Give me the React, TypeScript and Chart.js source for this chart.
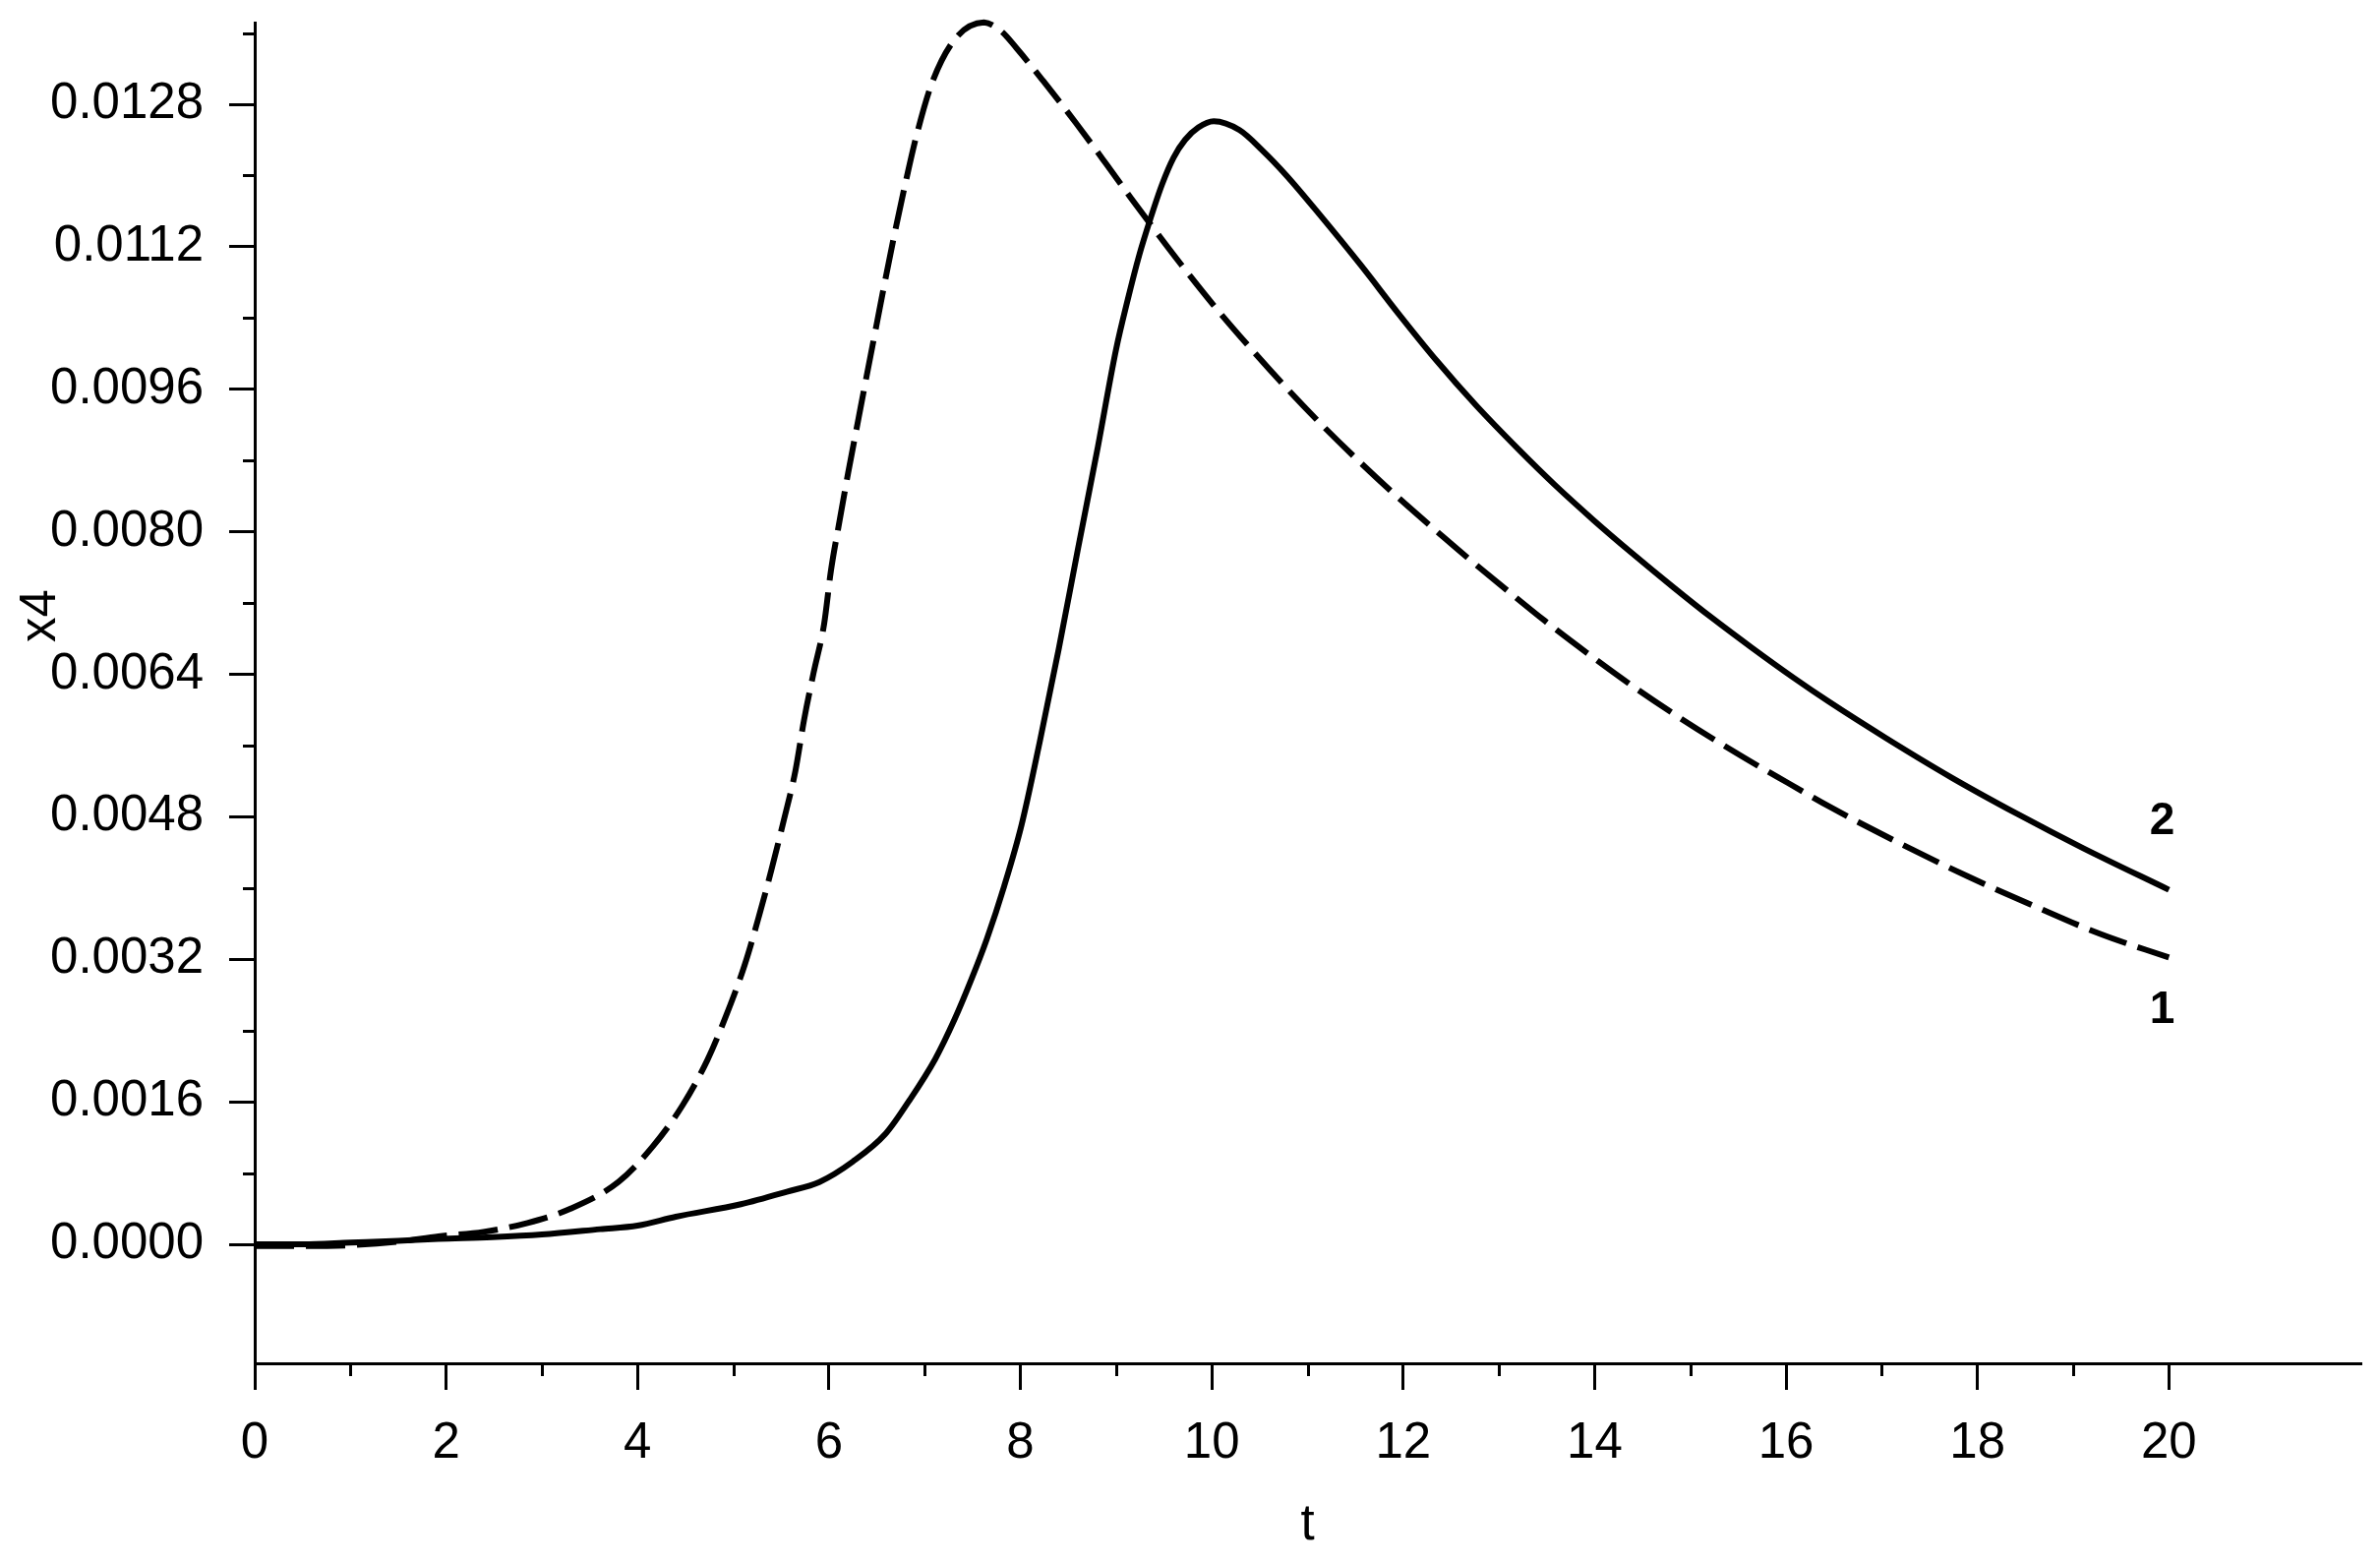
import React, { useEffect, useRef } from 'react';
import { Chart, registerables } from 'chart.js';

Chart.register(...registerables);

// ---- data ----
// curve 1 (dashed)
const tCurve1 = [0, 0.5, 1.0, 1.5, 1.92, 2.39, 2.85, 3.30, 3.80, 4.16, 4.47, 4.73, 4.93, 5.12, 5.27, 5.40, 5.53, 5.65, 5.74, 5.84, 5.95, 6.02, 6.11, 6.20, 6.31, 6.39, 6.50, 6.57, 6.68, 6.80, 6.91, 7.08, 7.33, 7.62, 7.80, 7.96, 8.24, 8.58, 8.89, 9.16, 9.34, 9.68, 10.06, 10.43, 10.81, 11.15, 11.53, 11.91, 12.42, 12.66, 13.10, 13.48, 13.92, 14.38, 14.82, 15.26, 15.71, 16.02, 16.46, 17.21, 17.90, 18.59, 19.27, 20.0];
const x4Curve1 = [-0.00002, -0.00002, -0.00001, 0.00003, 0.00009, 0.00014, 0.00024, 0.00040, 0.00070, 0.00110, 0.00156, 0.00207, 0.00258, 0.00314, 0.00369, 0.00421, 0.00477, 0.00532, 0.00589, 0.00642, 0.00697, 0.00756, 0.00812, 0.00866, 0.00928, 0.00973, 0.01034, 0.01073, 0.01132, 0.01192, 0.01243, 0.01305, 0.01355, 0.01372, 0.01362, 0.01343, 0.01306, 0.01259, 0.01214, 0.01174, 0.01148, 0.01100, 0.01049, 0.01003, 0.00958, 0.00920, 0.00880, 0.00842, 0.00794, 0.00772, 0.00733, 0.00700, 0.00664, 0.00628, 0.00596, 0.00566, 0.00537, 0.00518, 0.00491, 0.00449, 0.00413, 0.00380, 0.00349, 0.00322];

// curve 2 (solid)
const tCurve2 = [0, 0.5, 1.0, 1.5, 1.92, 2.48, 3.0, 3.61, 4.0, 4.40, 5.08, 5.56, 5.90, 6.25, 6.59, 6.83, 7.11, 7.31, 7.49, 7.65, 7.83, 8.01, 8.20, 8.40, 8.60, 8.80, 9.00, 9.12, 9.24, 9.36, 9.48, 9.60, 9.72, 9.86, 10.02, 10.29, 10.53, 10.78, 11.12, 11.56, 11.95, 12.35, 12.76, 13.20, 13.58, 13.99, 14.38, 14.82, 15.23, 15.64, 16.08, 16.45, 17.05, 17.73, 18.42, 19.10, 20.0];
const x4Curve2 = [0, 0, 0.00002, 0.00004, 0.00006, 0.00008, 0.00011, 0.00017, 0.00021, 0.00031, 0.00045, 0.00059, 0.00070, 0.00093, 0.00124, 0.00160, 0.00208, 0.00252, 0.00298, 0.00343, 0.00402, 0.00470, 0.00563, 0.00668, 0.00780, 0.00890, 0.01005, 0.01060, 0.01110, 0.01152, 0.01190, 0.01220, 0.01240, 0.01254, 0.01261, 0.01251, 0.01228, 0.01200, 0.01157, 0.01099, 0.01045, 0.00992, 0.00942, 0.00893, 0.00853, 0.00813, 0.00777, 0.00738, 0.00703, 0.00670, 0.00636, 0.00609, 0.00568, 0.00524, 0.00483, 0.00445, 0.00398];

const xMajorTicks = [0, 2, 4, 6, 8, 10, 12, 14, 16, 18, 20];
const xMinorTicks = [1, 3, 5, 7, 9, 11, 13, 15, 17, 19];
const yMajorTicks = [0, 0.0016, 0.0032, 0.0048, 0.0064, 0.0080, 0.0096, 0.0112, 0.0128];
const yMinorTicks = [0.0008, 0.0024, 0.0040, 0.0056, 0.0072, 0.0088, 0.0104, 0.0120, 0.0136];

const curveLabels = ['1', '2'];
const curveLabelT = [19.93, 19.93];
const curveLabelX4 = [0.00248, 0.00461];

const xTitle = 't';
const yTitle = 'x4';

const FONT = "'Liberation Sans', Arial, sans-serif";

export default function App() {
  const ref = useRef<HTMLCanvasElement | null>(null);

  useEffect(() => {
    document.body.style.margin = '0';
    const canvas = ref.current;
    if (!canvas) return;

    const extras = {
      id: 'extras',
      afterDraw(chart: any) {
        const { ctx, chartArea } = chart;
        const xs = chart.scales.x;
        const ys = chart.scales.y;
        ctx.save();
        ctx.strokeStyle = '#000';
        ctx.lineWidth = 3;
        ctx.beginPath();
        xMinorTicks.forEach((v) => {
          const px = Math.round(xs.getPixelForValue(v)) + 0.5;
          ctx.moveTo(px, chartArea.bottom);
          ctx.lineTo(px, chartArea.bottom + 13);
        });
        yMinorTicks.forEach((v) => {
          const py = Math.round(ys.getPixelForValue(v)) + 0.5;
          ctx.moveTo(chartArea.left - 12, py);
          ctx.lineTo(chartArea.left, py);
        });
        ctx.stroke();

        ctx.fillStyle = '#000';
        ctx.textAlign = 'center';
        ctx.textBaseline = 'alphabetic';
        ctx.font = `bold 46px ${FONT}`;
        curveLabels.forEach((s, i) => {
          ctx.fillText(s, xs.getPixelForValue(curveLabelT[i]), ys.getPixelForValue(curveLabelX4[i]));
        });

        ctx.font = `51px ${FONT}`;
        ctx.fillText(xTitle, (chartArea.left + chartArea.right) / 2, chartArea.bottom + 179);

        ctx.translate(chartArea.left - 203, chartArea.top + 603);
        ctx.rotate(-Math.PI / 2);
        ctx.fillText(yTitle, 0, 0);
        ctx.restore();
      },
    };

    const chart = new Chart(canvas, {
      type: 'line',
      data: {
        datasets: [
          {
            label: '1',
            data: tCurve1.map((t, i) => ({ x: t, y: x4Curve1[i] })),
            borderColor: '#000',
            borderWidth: 6,
            borderDash: [40, 12],
            pointRadius: 0,
            fill: false,
            cubicInterpolationMode: 'monotone',
            clip: false,
          },
          {
            label: '2',
            data: tCurve2.map((t, i) => ({ x: t, y: x4Curve2[i] })),
            borderColor: '#000',
            borderWidth: 6,
            pointRadius: 0,
            fill: false,
            cubicInterpolationMode: 'monotone',
            clip: false,
          },
        ],
      },
      options: {
        responsive: false,
        animation: false,
        devicePixelRatio: 1,
        layout: { padding: { top: 23, right: 20, left: 0, bottom: 0 } },
        plugins: { legend: { display: false }, tooltip: { enabled: false }, title: { display: false } },
        scales: {
          x: {
            type: 'linear',
            min: 0,
            max: 22,
            afterFit: (s: any) => { s.height = 202; s.paddingLeft = 0; s.paddingRight = 0; },
            afterBuildTicks: (s: any) => { s.ticks = xMajorTicks.map((value) => ({ value })); },
            border: { display: true, color: '#000', width: 3 },
            grid: { display: true, drawOnChartArea: false, drawTicks: true, tickLength: 27, tickWidth: 3, tickColor: '#000', color: '#000', lineWidth: 3 },
            ticks: {
              autoSkip: false,
              maxRotation: 0,
              minRotation: 0,
              padding: 24,
              color: '#000',
              font: { family: FONT, size: 51 },
              callback: (v: any) => String(v),
            },
          },
          y: {
            type: 'linear',
            min: -0.001336,
            max: 0.013717,
            afterFit: (s: any) => { s.width = 259; s.paddingTop = 0; s.paddingBottom = 0; },
            afterBuildTicks: (s: any) => { s.ticks = yMajorTicks.map((value) => ({ value })); },
            border: { display: true, color: '#000', width: 3 },
            grid: { display: true, drawOnChartArea: false, drawTicks: true, tickLength: 26, tickWidth: 3, tickColor: '#000', color: '#000', lineWidth: 3 },
            ticks: {
              autoSkip: false,
              padding: 26,
              color: '#000',
              font: { family: FONT, size: 51 },
              callback: (v: any) => Number(v).toFixed(4),
            },
          },
        },
      },
      plugins: [extras],
    } as any);

    return () => chart.destroy();
  }, []);

  return (
    <div style={{ width: 2420, height: 1588, background: '#fff' }}>
      <canvas ref={ref} width={2420} height={1588} style={{ display: 'block', width: 2420, height: 1588 }} />
    </div>
  );
}
